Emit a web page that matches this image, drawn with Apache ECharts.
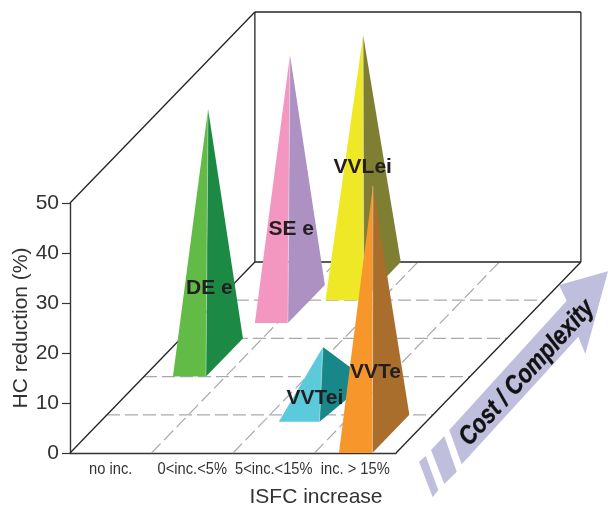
<!DOCTYPE html>
<html><head><meta charset="utf-8">
<style>html,body{margin:0;padding:0;background:#fff}#c{width:608px;height:505px}</style>
<script src="https://cdn.jsdelivr.net/npm/echarts@6/dist/echarts.min.js"></script>
</head><body><div id="c"></div>
<script>
// ---- data ----
const categories = ['no inc.', '0<inc.<5%', '5<inc.<15%', 'inc. > 15%'];
const names      = ['DE e', 'SE e', 'VVLei', 'VVTei', 'VVTe'];
const peaks      = [49.7, 49.8, 49.2, 11.1, 49.6];
const apexX      = [0.56, 0.93, 1.555, 2.505, 3.49];
const apexRow    = [2.5, 3.9, 4.5, 1.32, 0.5];
const frontX     = [0.356, 0.726, 1.32, 2.19, 3.3];
const frontRow   = [2, 3.4, 4, 0.82, 0];
const baseWidth  = [0.405, 0.405, 0.47, 0.5, 0.41];
const baseRows   = [1, 1, 1, 1.065, 1];
const baseSkew   = [0, 0, 0, 0.12, 0];
const labelHeight = [13.8, 14.9, 22.7, 0.8, 12.3];
const labelX      = [0.575, 0.945, 1.55, 2.405, 3.52];
const yMax = 50, yStep = 10, rowCount = 5;

// ---- oblique projection expressed in axis units ----
const COL_PER_ROW = 0.4537, PCT_PER_ROW = 7.64;
const proj = (api, x, r, h) => api.coord([x + r * COL_PER_ROW, h + r * PCT_PER_ROW]);

const colCount = categories.length;
const frame = [
  [0,0,0, 0,rowCount,0], [colCount,0,0, colCount,rowCount,0], [0,rowCount,0, colCount,rowCount,0],
  [0,0,yMax, 0,rowCount,yMax], [0,rowCount,0, 0,rowCount,yMax],
  [0,rowCount,yMax, colCount,rowCount,yMax], [colCount,rowCount,0, colCount,rowCount,yMax]
];
const dashes = [];
for (let i = 1; i < colCount; i++) dashes.push([i,0,0, i,rowCount,0]);
for (let r = 1; r < rowCount; r++) dashes.push([0,r,0, colCount,r,0]);

const leftFill  = ['#62bb46', '#f397c1', '#efe827', '#5bcbdc', '#f7962b'];
const rightFill = ['#1c8a44', '#ad91c3', '#7f7f33', '#17878a', '#a96e2b'];

const segSeries = (data, style) => ({
  type: 'custom', coordinateSystem: 'cartesian2d', xAxisIndex: 1, yAxisIndex: 0, silent: true,
  data, clip: false,
  renderItem: (p, api) => {
    const a = proj(api, api.value(0), api.value(1), api.value(2));
    const b = proj(api, api.value(3), api.value(4), api.value(5));
    return { type: 'line', shape: { x1: a[0], y1: a[1], x2: b[0], y2: b[1] }, style };
  }
});

const pyramidSeries = {
  type: 'custom', coordinateSystem: 'cartesian2d', xAxisIndex: 1, yAxisIndex: 0, silent: true, clip: false,
  data: names.map((n, i) => [apexX[i], peaks[i]]),
  renderItem: (p, api) => {
    const i = p.dataIndex;
    const fl = proj(api, frontX[i], frontRow[i], 0);
    const fr = proj(api, frontX[i] + baseWidth[i], frontRow[i], 0);
    const br = proj(api, frontX[i] + baseWidth[i] + baseSkew[i], frontRow[i] + baseRows[i], 0);
    const top = proj(api, apexX[i], apexRow[i], peaks[i]);
    return { type: 'group', children: [
      { type: 'polygon', shape: { points: [fl, fr, top] }, style: { fill: leftFill[i] } },
      { type: 'polygon', shape: { points: [fr, br, top] }, style: { fill: rightFill[i] } },
      { type: 'line', shape: { x1: fr[0], y1: fr[1], x2: top[0], y2: top[1] },
        style: { stroke: 'rgba(255,255,255,0.45)', lineWidth: 0.8 } }
    ]};
  }
};

const labelSeries = {
  type: 'custom', coordinateSystem: 'cartesian2d', xAxisIndex: 1, yAxisIndex: 0, silent: true, clip: false,
  data: names.map((n, i) => [apexX[i], peaks[i]]),
  renderItem: (p, api) => {
    const i = p.dataIndex;
    const c = proj(api, labelX[i], apexRow[i], labelHeight[i]);
    return { type: 'text', x: c[0], y: c[1], style: {
      text: names[i], fill: '#231f20', align: 'center', verticalAlign: 'middle',
      font: 'bold 21px "Liberation Sans", Arial, sans-serif' } };
  }
};

// condensed category labels, placed at the category centres
const tickLabelSeries = {
  type: 'custom', coordinateSystem: 'cartesian2d', xAxisIndex: 1, yAxisIndex: 0, silent: true, clip: false,
  data: categories.map((c, i) => [i + 0.5, 0]),
  renderItem: (p, api) => {
    const c = api.coord([api.value(0), api.value(1)]);
    return { type: 'text', x: c[0], y: c[1] + 16.5, scaleX: 0.89, style: {
      text: categories[p.dataIndex], fill: '#333', align: 'center', verticalAlign: 'middle',
      font: '16.5px "Liberation Sans", sans-serif' } };
  }
};

const arrowFill = '#bfbedd';
const chart = echarts.init(document.getElementById('c'), null, { renderer: 'canvas' });
chart.setOption({
  animation: false,
  backgroundColor: '#fff',
  grid: { left: 70, right: 212, top: 203, bottom: 52, containLabel: false, outerBoundsMode: 'none' },
  xAxis: [
    { type: 'category', data: categories, position: 'bottom',
      axisLine: { lineStyle: { color: '#333', width: 1.4 } },
      axisTick: { length: 8, lineStyle: { color: '#333', width: 1.2 } },
      axisLabel: { show: false },
      splitLine: { show: false } },
    { type: 'value', min: 0, max: colCount, show: false, splitLine: { show: false } }
  ],
  yAxis: [{ type: 'value', min: 0, max: yMax, interval: yStep,
    name: 'HC reduction (%)', nameLocation: 'middle', nameGap: 38.5, nameRotate: 90, nameMoveOverlap: false,
    nameTextStyle: { color: '#333', fontSize: 21, fontFamily: '"Liberation Sans", sans-serif' },
    axisLine: { show: true, lineStyle: { color: '#333', width: 1.4 } },
    axisTick: { show: true, length: 8, lineStyle: { color: '#333', width: 1.2 } },
    axisLabel: { margin: 11, color: '#333', fontSize: 21, fontFamily: '"Liberation Sans", sans-serif' },
    splitLine: { show: false } }],
  graphic: [
    { type: 'text', x: 316, y: 497, style: { text: 'ISFC increase', align: 'center', verticalAlign: 'middle',
      fill: '#333', font: '21px "Liberation Sans", sans-serif' } },
    { type: 'polygon', z: 5, shape: { points: [[449.3,430],[566.7,300.7],[559,285],[608,271.3],[585.3,354],[578.3,336.7],[461.7,464.3]] }, style: { fill: arrowFill } },
    { type: 'polygon', z: 5, shape: { points: [[431,450],[444.3,436],[456.7,471.7],[444.3,484]] }, style: { fill: arrowFill } },
    { type: 'polygon', z: 5, shape: { points: [[419,461.7],[425.7,456],[438.3,490],[432.7,497.3]] }, style: { fill: arrowFill } },
    { type: 'text', z: 6, x: 527, y: 373, rotation: 47.5 * Math.PI / 180, scaleX: 0.85, style: { text: 'Cost / Complexity',
      align: 'center', verticalAlign: 'middle', fill: '#111', stroke: '#111', lineWidth: 0.4, font: 'italic bold 26px "Liberation Sans", sans-serif' } }
  ],
  series: [
    segSeries(dashes, { stroke: '#a7a9ac', lineWidth: 1.2, lineDash: [13, 5] }),
    segSeries(frame, { stroke: '#222', lineWidth: 1.3 }),
    pyramidSeries,
    labelSeries,
    tickLabelSeries
  ]
});
</script></body></html>
